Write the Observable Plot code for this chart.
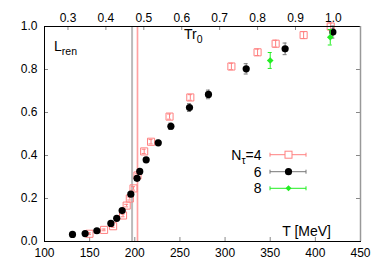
<!DOCTYPE html>
<html><head><meta charset="utf-8">
<script src="https://cdn.jsdelivr.net/npm/d3@7"></script>
<script src="https://cdn.jsdelivr.net/npm/@observablehq/plot@0.6"></script>
<style>body{margin:0;background:#fff}</style>
</head><body><div id="chart"></div>
<script>
// N_tau = 4 (open red squares)
const T4 = [149.8,166,176,187,191,194.5,198.6,203,210.4,218,238.5,261.5,307,336,356,387,417];
const L4 = [0.036,0.054,0.071,0.121,0.167,0.2,0.247,0.307,0.419,0.464,0.581,0.67,0.814,0.88,0.92,0.96,1.0];
const E4 = [0.004,0.004,0.005,0.006,0.006,0.007,0.008,0.008,0.01,0.01,0.012,0.013,0.015,0.015,0.016,0.016,0.016];
// N_tau = 6 (black circles)
const T6 = [131,145,158,173.5,180,186,195.6,202.5,205.5,212.6,226,240,260.6,281.6,323.4,366.5,419.4];
const L6 = [0.033,0.037,0.05,0.084,0.108,0.144,0.22,0.294,0.326,0.38,0.459,0.536,0.623,0.684,0.803,0.896,0.974];
const E6 = [0.003,0.003,0.004,0.005,0.005,0.006,0.007,0.008,0.008,0.01,0.012,0.015,0.018,0.02,0.024,0.027,0.028];
// N_tau = 8 (green diamonds)
const T8 = [350,416.5];
const L8 = [0.842,0.95];
const E8 = [0.037,0.036];
// axes
const xTicks = [100,150,200,250,300,350,400,450];
const yTicks = [0,0.2,0.4,0.6,0.8,1.0];
const topTicks = [0.3,0.4,0.5,0.6,0.7,0.8,0.9,1.0];
const Tref = 420;
const vLines = [197, 203];
const vColors = ["#bbbbbb", "#ffc0c0"];
const legendLabels = ["4","6","8"];

const C4 = "#ff8080", C6 = "#000000", C8 = "#22ee22";
const mk = (T,L,E) => T.map((t,i)=>({T:t, v:L[i], e:E[i]}));
const d4 = mk(T4,L4,E4), d6 = mk(T6,L6,E6), d8 = mk(T8,L8,E8);

function errMarks(d, col){
  return [
    Plot.ruleX(d, {x:"T", y1:r=>r.v-r.e, y2:r=>r.v+r.e, stroke:col, strokeWidth:1}),
    Plot.ruleY(d, {y:r=>r.v-r.e, x1:"T", x2:"T", insetLeft:-2, insetRight:-2, stroke:col, strokeWidth:1}),
    Plot.ruleY(d, {y:r=>r.v+r.e, x1:"T", x2:"T", insetLeft:-2, insetRight:-2, stroke:col, strokeWidth:1})
  ];
}

const chart = Plot.plot({
  width:382, height:267,
  marginLeft:44, marginRight:22, marginTop:26, marginBottom:26,
  style:{fontFamily:"'Liberation Sans', Arial, sans-serif", fontSize:"12px", color:"#000", background:"#fff"},
  x:{domain:[100,450]},
  y:{domain:[0,1]},
  marks:[
    Plot.ruleX(vLines, {x:d=>d, stroke:(d,i)=>vColors[i], strokeWidth:2}),
    Plot.ruleX([vLines[1]], {x:d=>d, stroke:"#ff8080", strokeWidth:0.5}),
    Plot.axisX({ticks:xTicks, tickSize:0, tickPadding:7, tickFormat:d=>d, label:null}),
    Plot.axisY({ticks:yTicks, tickSize:0, tickPadding:7, tickFormat:d=>d.toFixed(1), label:null}),
    Plot.text(topTicks, {x:d=>d*Tref, frameAnchor:"top", dy:-13, text:d=>d.toFixed(1), fontSize:12}),
    Plot.ruleX(xTicks, {x:d=>d, y1:0, y2:0, insetTop:-4, stroke:"#888"}),
    Plot.ruleX(topTicks, {x:d=>d*Tref, y1:1, y2:1, insetBottom:-4, stroke:"#888"}),
    Plot.ruleY(yTicks, {y:d=>d, x1:100, x2:100, insetRight:-4, stroke:"#888"}),
    Plot.ruleY(yTicks, {y:d=>d, x1:450, x2:450, insetLeft:-4, stroke:"#888"}),
    ...errMarks(d4, C4),
    Plot.dot(d4, {x:"T", y:"v", symbol:"square", r:4, stroke:C4, fill:"none", strokeWidth:1}),
    ...errMarks(d6, "#777"),
    Plot.dot(d6, {x:"T", y:"v", r:3.6, fill:C6, stroke:"none"}),
    ...errMarks(d8, C8),
    Plot.dot(d8, {x:"T", y:"v", symbol:"diamond2", r:3, fill:C8, stroke:"none"}),
    Plot.frame({stroke:"#000"}),
    Plot.ruleX([450], {x:d=>d, stroke:"#999", strokeWidth:1.5})
  ]
});
document.getElementById("chart").append(chart);

// labels & legend
const svg = d3.select(chart);
const g = svg.append("g").attr("font-family","'Liberation Sans', Arial, sans-serif").attr("fill","#000");
function sub(x, y, main, s, anchor){
  const t = g.append("text").attr("x",x).attr("y",y).attr("font-size",14).attr("text-anchor",anchor||"start");
  t.append("tspan").text(main);
  t.append("tspan").attr("font-size",10.5).attr("dy",4).text(s);
  return t;
}
sub(54, 50.5, "L", "ren");
sub(184, 38.5, "Tr", "0");
g.append("text").attr("x",331).attr("y",235.5).attr("font-size",14).attr("text-anchor","end").text("T [MeV]");

const rows = [154.7, 171.7, 188.3];
const cols = [C4, "#777", C8];
rows.forEach((y,i)=>{
  g.append("line").attr("x1",270).attr("x2",306).attr("y1",y).attr("y2",y).attr("stroke",cols[i]).attr("stroke-width",1);
  [270,306].forEach(x=>g.append("line").attr("x1",x).attr("x2",x).attr("y1",y-2).attr("y2",y+2).attr("stroke",cols[i]));
});
g.append("rect").attr("x",285).attr("y",rows[0]-3.5).attr("width",7).attr("height",7).attr("fill","#fff").attr("stroke",C4);
g.append("circle").attr("cx",288.5).attr("cy",rows[1]).attr("r",3.6).attr("fill",C6);
g.append("path").attr("d",`M288.5,${rows[2]-3}L291.5,${rows[2]}L288.5,${rows[2]+3}L285.5,${rows[2]}Z`).attr("fill",C8);

const t0 = g.append("text").attr("x",261.5).attr("y",rows[0]+5).attr("font-size",14).attr("text-anchor","end");
t0.append("tspan").text("N");
t0.append("tspan").attr("font-size",10.5).attr("dy",4).text("τ");
t0.append("tspan").attr("dy",-4).text("=" + legendLabels[0]);
legendLabels.slice(1).forEach((s,i)=>{
  g.append("text").attr("x",261.5).attr("y",rows[i+1]+5).attr("font-size",14).attr("text-anchor","end").text(s);
});
</script></body></html>
